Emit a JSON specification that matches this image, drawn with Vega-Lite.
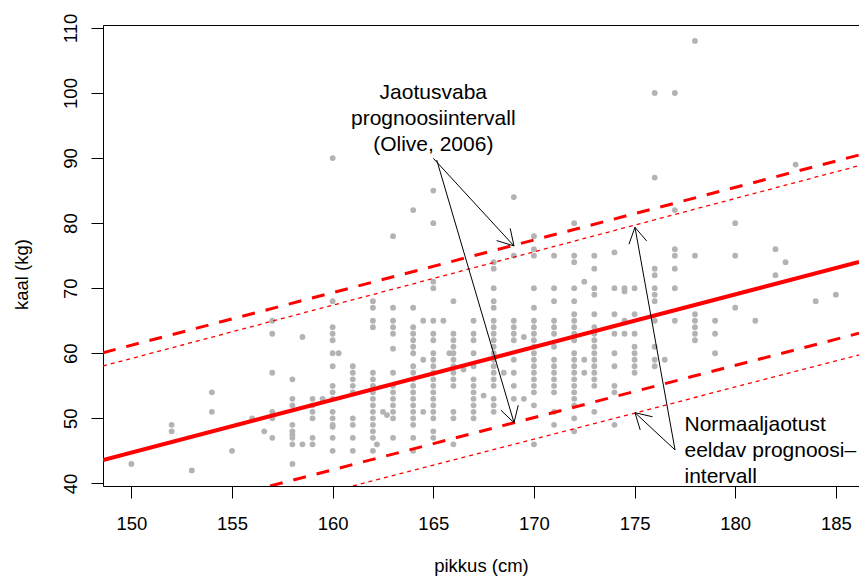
{
  "$schema": "https://vega.github.io/schema/vega-lite/v6.json",
  "width": 756,
  "height": 461,
  "autosize": {"type": "none"},
  "padding": {"left": 103, "top": 25, "right": 0, "bottom": 93},
  "background": "white",
  "config": {
    "view": {"stroke": null},
    "font": "Liberation Sans",
    "axis": {"grid": false, "domainColor": "black", "tickColor": "black", "labelColor": "black", "titleColor": "black", "titleFontWeight": "normal", "domainWidth": 1, "tickWidth": 1}
  },
  "datasets": {
    "punktid": [
      {"pikkus":150,"kaal":43},
      {"pikkus":152,"kaal":49},{"pikkus":152,"kaal":48},
      {"pikkus":153,"kaal":42},
      {"pikkus":154,"kaal":54},{"pikkus":154,"kaal":51},
      {"pikkus":155,"kaal":45},
      {"pikkus":156,"kaal":50},
      {"pikkus":156.6,"kaal":48},
      {"pikkus":157,"kaal":65},{"pikkus":157,"kaal":63},{"pikkus":157,"kaal":57},{"pikkus":157,"kaal":51},{"pikkus":157,"kaal":50},{"pikkus":157,"kaal":47},
      {"pikkus":158,"kaal":56},{"pikkus":158,"kaal":53},{"pikkus":158,"kaal":52},{"pikkus":158,"kaal":49},{"pikkus":158,"kaal":48},{"pikkus":158,"kaal":47.5},{"pikkus":158,"kaal":47},{"pikkus":158,"kaal":46},{"pikkus":158,"kaal":43},
      {"pikkus":158.5,"kaal":62.5},{"pikkus":158.5,"kaal":46},
      {"pikkus":159,"kaal":53},{"pikkus":159,"kaal":52},{"pikkus":159,"kaal":51},{"pikkus":159,"kaal":50},{"pikkus":159,"kaal":47},{"pikkus":159,"kaal":46},
      {"pikkus":159.5,"kaal":53},
      {"pikkus":160,"kaal":90},{"pikkus":160,"kaal":68},{"pikkus":160,"kaal":64},{"pikkus":160,"kaal":63},{"pikkus":160,"kaal":62},{"pikkus":160,"kaal":60},{"pikkus":160,"kaal":58},{"pikkus":160,"kaal":55},{"pikkus":160,"kaal":54},{"pikkus":160,"kaal":53},{"pikkus":160,"kaal":51},{"pikkus":160,"kaal":50},{"pikkus":160,"kaal":49},{"pikkus":160,"kaal":48.7},{"pikkus":160,"kaal":47},{"pikkus":160,"kaal":45},
      {"pikkus":160.3,"kaal":60},
      {"pikkus":161,"kaal":58},{"pikkus":161,"kaal":57},{"pikkus":161,"kaal":56},{"pikkus":161,"kaal":55},{"pikkus":161,"kaal":54},{"pikkus":161,"kaal":50},{"pikkus":161,"kaal":49},{"pikkus":161,"kaal":47},{"pikkus":161,"kaal":45},
      {"pikkus":162,"kaal":68},{"pikkus":162,"kaal":67},{"pikkus":162,"kaal":65},{"pikkus":162,"kaal":64},{"pikkus":162,"kaal":57},{"pikkus":162,"kaal":56},{"pikkus":162,"kaal":55},{"pikkus":162,"kaal":54},{"pikkus":162,"kaal":53},{"pikkus":162,"kaal":52},{"pikkus":162,"kaal":51},{"pikkus":162,"kaal":50},{"pikkus":162,"kaal":49},{"pikkus":162,"kaal":48},{"pikkus":162,"kaal":47},{"pikkus":162,"kaal":45},
      {"pikkus":162.2,"kaal":46},{"pikkus":162.5,"kaal":51},{"pikkus":162.7,"kaal":50.5},
      {"pikkus":163,"kaal":78},{"pikkus":163,"kaal":67},{"pikkus":163,"kaal":65},{"pikkus":163,"kaal":64},{"pikkus":163,"kaal":63},{"pikkus":163,"kaal":60.7},{"pikkus":163,"kaal":57},{"pikkus":163,"kaal":55},{"pikkus":163,"kaal":54},{"pikkus":163,"kaal":53},{"pikkus":163,"kaal":52},{"pikkus":163,"kaal":51},{"pikkus":163,"kaal":50},{"pikkus":163,"kaal":47},
      {"pikkus":164,"kaal":82},{"pikkus":164,"kaal":67},{"pikkus":164,"kaal":64},{"pikkus":164,"kaal":63},{"pikkus":164,"kaal":62},{"pikkus":164,"kaal":61},{"pikkus":164,"kaal":60},{"pikkus":164,"kaal":58},{"pikkus":164,"kaal":57},{"pikkus":164,"kaal":56},{"pikkus":164,"kaal":55},{"pikkus":164,"kaal":54},{"pikkus":164,"kaal":53},{"pikkus":164,"kaal":52},{"pikkus":164,"kaal":51},{"pikkus":164,"kaal":50},{"pikkus":164,"kaal":49},{"pikkus":164,"kaal":47},{"pikkus":164,"kaal":45},
      {"pikkus":164.5,"kaal":65},{"pikkus":164.5,"kaal":59},{"pikkus":164.5,"kaal":51},
      {"pikkus":165,"kaal":85},{"pikkus":165,"kaal":80},{"pikkus":165,"kaal":71},{"pikkus":165,"kaal":70},{"pikkus":165,"kaal":65},{"pikkus":165,"kaal":63},{"pikkus":165,"kaal":62},{"pikkus":165,"kaal":60},{"pikkus":165,"kaal":59},{"pikkus":165,"kaal":58},{"pikkus":165,"kaal":57},{"pikkus":165,"kaal":56},{"pikkus":165,"kaal":55},{"pikkus":165,"kaal":54},{"pikkus":165,"kaal":53},{"pikkus":165,"kaal":52},{"pikkus":165,"kaal":51},{"pikkus":165,"kaal":50},{"pikkus":165,"kaal":48},{"pikkus":165,"kaal":47},
      {"pikkus":165.5,"kaal":65},{"pikkus":165.8,"kaal":60},
      {"pikkus":166,"kaal":68},{"pikkus":166,"kaal":63},{"pikkus":166,"kaal":62},{"pikkus":166,"kaal":61},{"pikkus":166,"kaal":60},{"pikkus":166,"kaal":59},{"pikkus":166,"kaal":58},{"pikkus":166,"kaal":57},{"pikkus":166,"kaal":56},{"pikkus":166,"kaal":55},{"pikkus":166,"kaal":51},{"pikkus":166,"kaal":50},{"pikkus":166,"kaal":46},
      {"pikkus":166.5,"kaal":57.5},
      {"pikkus":167,"kaal":65},{"pikkus":167,"kaal":63},{"pikkus":167,"kaal":62},{"pikkus":167,"kaal":60},{"pikkus":167,"kaal":58},{"pikkus":167,"kaal":56},{"pikkus":167,"kaal":55},{"pikkus":167,"kaal":54},{"pikkus":167,"kaal":53},{"pikkus":167,"kaal":52},{"pikkus":167,"kaal":51},{"pikkus":167,"kaal":50},
      {"pikkus":167.5,"kaal":53.5},
      {"pikkus":168,"kaal":74},{"pikkus":168,"kaal":73},{"pikkus":168,"kaal":70},{"pikkus":168,"kaal":68},{"pikkus":168,"kaal":67},{"pikkus":168,"kaal":65},{"pikkus":168,"kaal":64},{"pikkus":168,"kaal":63},{"pikkus":168,"kaal":62},{"pikkus":168,"kaal":61},{"pikkus":168,"kaal":60},{"pikkus":168,"kaal":59},{"pikkus":168,"kaal":58},{"pikkus":168,"kaal":57},{"pikkus":168,"kaal":56},{"pikkus":168,"kaal":55},{"pikkus":168,"kaal":53},{"pikkus":168,"kaal":52},{"pikkus":168,"kaal":51},
      {"pikkus":168.5,"kaal":57},
      {"pikkus":169,"kaal":84},{"pikkus":169,"kaal":75},{"pikkus":169,"kaal":65},{"pikkus":169,"kaal":64},{"pikkus":169,"kaal":63},{"pikkus":169,"kaal":62},{"pikkus":169,"kaal":59},{"pikkus":169,"kaal":57},{"pikkus":169,"kaal":55},{"pikkus":169,"kaal":53},
      {"pikkus":169.5,"kaal":62.5},{"pikkus":169.5,"kaal":53},
      {"pikkus":170,"kaal":78},{"pikkus":170,"kaal":76},{"pikkus":170,"kaal":75},{"pikkus":170,"kaal":70},{"pikkus":170,"kaal":67},{"pikkus":170,"kaal":65},{"pikkus":170,"kaal":64},{"pikkus":170,"kaal":63},{"pikkus":170,"kaal":62},{"pikkus":170,"kaal":61},{"pikkus":170,"kaal":60},{"pikkus":170,"kaal":59},{"pikkus":170,"kaal":58},{"pikkus":170,"kaal":57},{"pikkus":170,"kaal":56},{"pikkus":170,"kaal":55},{"pikkus":170,"kaal":54},{"pikkus":170,"kaal":52},{"pikkus":170,"kaal":46},
      {"pikkus":171,"kaal":75},{"pikkus":171,"kaal":70},{"pikkus":171,"kaal":68},{"pikkus":171,"kaal":65},{"pikkus":171,"kaal":64},{"pikkus":171,"kaal":63},{"pikkus":171,"kaal":61},{"pikkus":171,"kaal":59},{"pikkus":171,"kaal":58},{"pikkus":171,"kaal":57},{"pikkus":171,"kaal":56},{"pikkus":171,"kaal":55},{"pikkus":171,"kaal":54},{"pikkus":171,"kaal":51},{"pikkus":171,"kaal":49},
      {"pikkus":172,"kaal":80},{"pikkus":172,"kaal":75},{"pikkus":172,"kaal":74},{"pikkus":172,"kaal":70},{"pikkus":172,"kaal":68},{"pikkus":172,"kaal":66},{"pikkus":172,"kaal":65},{"pikkus":172,"kaal":64},{"pikkus":172,"kaal":63},{"pikkus":172,"kaal":62},{"pikkus":172,"kaal":60},{"pikkus":172,"kaal":59},{"pikkus":172,"kaal":58},{"pikkus":172,"kaal":57},{"pikkus":172,"kaal":56},{"pikkus":172,"kaal":55},{"pikkus":172,"kaal":54},{"pikkus":172,"kaal":53},{"pikkus":172,"kaal":52},{"pikkus":172,"kaal":50},{"pikkus":172,"kaal":48},
      {"pikkus":172.5,"kaal":71},{"pikkus":172.5,"kaal":59},{"pikkus":172.5,"kaal":57},
      {"pikkus":173,"kaal":75},{"pikkus":173,"kaal":73},{"pikkus":173,"kaal":70},{"pikkus":173,"kaal":69},{"pikkus":173,"kaal":66},{"pikkus":173,"kaal":64},{"pikkus":173,"kaal":63},{"pikkus":173,"kaal":62},{"pikkus":173,"kaal":61},{"pikkus":173,"kaal":60},{"pikkus":173,"kaal":59},{"pikkus":173,"kaal":58},{"pikkus":173,"kaal":57},{"pikkus":173,"kaal":56},{"pikkus":173,"kaal":55},{"pikkus":173,"kaal":51},
      {"pikkus":174,"kaal":75.5},{"pikkus":174,"kaal":70},{"pikkus":174,"kaal":66},{"pikkus":174,"kaal":63},{"pikkus":174,"kaal":60},{"pikkus":174,"kaal":58},{"pikkus":174,"kaal":55},{"pikkus":174,"kaal":54},{"pikkus":174,"kaal":49},
      {"pikkus":174.5,"kaal":70},{"pikkus":174.5,"kaal":69.5},{"pikkus":174.5,"kaal":65},{"pikkus":174.5,"kaal":63},
      {"pikkus":175,"kaal":70},{"pikkus":175,"kaal":66},{"pikkus":175,"kaal":63},{"pikkus":175,"kaal":61},{"pikkus":175,"kaal":60},{"pikkus":175,"kaal":59},{"pikkus":175,"kaal":58},{"pikkus":175,"kaal":57},
      {"pikkus":176,"kaal":100},{"pikkus":176,"kaal":87},{"pikkus":176,"kaal":73},{"pikkus":176,"kaal":72},{"pikkus":176,"kaal":70},{"pikkus":176,"kaal":69},{"pikkus":176,"kaal":68},{"pikkus":176,"kaal":65},{"pikkus":176,"kaal":61},{"pikkus":176,"kaal":59},{"pikkus":176,"kaal":58},
      {"pikkus":176.5,"kaal":59},
      {"pikkus":177,"kaal":100},{"pikkus":177,"kaal":82},{"pikkus":177,"kaal":76},{"pikkus":177,"kaal":75},{"pikkus":177,"kaal":73},{"pikkus":177,"kaal":70},{"pikkus":177,"kaal":65},
      {"pikkus":178,"kaal":108},{"pikkus":178,"kaal":75},{"pikkus":178,"kaal":66},{"pikkus":178,"kaal":65},{"pikkus":178,"kaal":64},{"pikkus":178,"kaal":63},{"pikkus":178,"kaal":62},
      {"pikkus":179,"kaal":65},{"pikkus":179,"kaal":63},{"pikkus":179,"kaal":60},
      {"pikkus":180,"kaal":80},{"pikkus":180,"kaal":75},{"pikkus":180,"kaal":67},
      {"pikkus":181,"kaal":65},
      {"pikkus":182,"kaal":76},{"pikkus":182,"kaal":72},
      {"pikkus":182.5,"kaal":74},
      {"pikkus":183,"kaal":89},
      {"pikkus":184,"kaal":68},
      {"pikkus":185,"kaal":69}
    ],
    "regressioon": [
      {"pikkus":148.59,"kaal":43.6},{"pikkus":186.15,"kaal":74.03}
    ],
    "olive": [
      {"piir":"ülemine","pikkus":148.59,"kaal":60.09},{"piir":"ülemine","pikkus":186.15,"kaal":90.47},
      {"piir":"alumine","pikkus":156.89,"kaal":39.6},{"piir":"alumine","pikkus":186.15,"kaal":63.07}
    ],
    "normaal": [
      {"piir":"ülemine","pikkus":148.59,"kaal":58.04},{"piir":"ülemine","pikkus":186.15,"kaal":88.83},
      {"piir":"alumine","pikkus":161.01,"kaal":39.6},{"piir":"alumine","pikkus":186.15,"kaal":59.74}
    ],
    "nooled": [
      {"pikkus":165.0,"kaal":89.96,"pikkus2":169.01,"kaal2":76.49},
      {"pikkus":169.01,"kaal":76.49,"pikkus2":168.82,"kaal2":79.19},
      {"pikkus":169.01,"kaal":76.49,"pikkus2":168.15,"kaal2":77.32},
      {"pikkus":165.17,"kaal":89.7,"pikkus2":169.01,"kaal2":49.33},
      {"pikkus":169.01,"kaal":49.33,"pikkus2":169.22,"kaal2":52.02},
      {"pikkus":169.01,"kaal":49.33,"pikkus2":168.36,"kaal2":51.24},
      {"pikkus":177.01,"kaal":45.14,"pikkus2":175.02,"kaal2":50.87},
      {"pikkus":175.02,"kaal":50.87,"pikkus2":175.28,"kaal2":48.22},
      {"pikkus":175.02,"kaal":50.87,"pikkus2":175.89,"kaal2":50.24},
      {"pikkus":177.01,"kaal":45.14,"pikkus2":175.02,"kaal2":79.36},
      {"pikkus":175.02,"kaal":79.36,"pikkus2":174.72,"kaal2":76.76},
      {"pikkus":175.02,"kaal":79.36,"pikkus2":175.6,"kaal2":77.26}
    ],
    "tekst1": [
      {"pikkus":165.0,"kaal":100.0,"silt":"Jaotusvaba\nprognoosiintervall\n(Olive, 2006)"}
    ],
    "tekst2": [
      {"pikkus":177.48,"kaal":48.98,"silt":"Normaaljaotust\neeldav prognoosi–\nintervall"}
    ]
  },
  "layer": [
    {
      "data": {"name": "punktid"},
      "mark": {"type": "circle", "size": 34, "color": "#b3b3b3", "opacity": 1, "strokeWidth": 0},
      "encoding": {
        "x": {"field": "pikkus", "type": "quantitative",
              "scale": {"domain": [148.59, 186.15], "nice": false, "zero": false},
              "axis": {"orient": "bottom", "values": [150,155,160,165,170,175,180,185], "title": "pikkus (cm)", "tickSize": 12, "labelFontSize": 18.5, "labelPadding": 16, "titleFontSize": 18.5, "titleBaseline": "alphabetic", "titleY": 85, "labelFlush": false, "labelOverlap": false}},
        "y": {"field": "kaal", "type": "quantitative",
              "scale": {"domain": [39.6, 110.45], "nice": false, "zero": false},
              "axis": {"values": [40,50,60,70,80,90,100,110], "title": "kaal (kg)", "tickSize": 12, "labelFontSize": 18.5, "labelAngle": -90, "labelAlign": "center", "labelBaseline": "alphabetic", "labelPadding": 15, "labelFlush": false, "labelOverlap": false, "titleFontSize": 18.5, "titleAngle": -90, "titleAlign": "center", "titleBaseline": "alphabetic", "titleX": -76, "titleY": 249}}
      }
    },
    {
      "data": {"name": "regressioon"},
      "mark": {"type": "line", "color": "#ff0000", "strokeWidth": 4, "clip": true},
      "encoding": {
        "x": {"field": "pikkus", "type": "quantitative", "axis": {"orient": "top", "labels": false, "ticks": false, "title": null, "domain": true}},
        "y": {"field": "kaal", "type": "quantitative"}
      }
    },
    {
      "data": {"name": "olive"},
      "mark": {"type": "line", "color": "#ff0000", "strokeWidth": 3, "strokeDash": [13, 11], "clip": true},
      "encoding": {
        "x": {"field": "pikkus", "type": "quantitative", "axis": null},
        "y": {"field": "kaal", "type": "quantitative"},
        "detail": {"field": "piir", "type": "nominal"}
      }
    },
    {
      "data": {"name": "normaal"},
      "mark": {"type": "line", "color": "#ff0000", "strokeWidth": 1.3, "strokeDash": [4, 4], "clip": true},
      "encoding": {
        "x": {"field": "pikkus", "type": "quantitative", "axis": null},
        "y": {"field": "kaal", "type": "quantitative"},
        "detail": {"field": "piir", "type": "nominal"}
      }
    },
    {
      "data": {"name": "nooled"},
      "mark": {"type": "rule", "color": "black", "strokeWidth": 1},
      "encoding": {
        "x": {"field": "pikkus", "type": "quantitative", "axis": null},
        "y": {"field": "kaal", "type": "quantitative"},
        "x2": {"field": "pikkus2"},
        "y2": {"field": "kaal2"}
      }
    },
    {
      "data": {"name": "tekst1"},
      "mark": {"type": "text", "align": "center", "baseline": "middle", "fontSize": 21, "lineHeight": 26, "lineBreak": "\n", "color": "black"},
      "encoding": {
        "x": {"field": "pikkus", "type": "quantitative", "axis": null},
        "y": {"field": "kaal", "type": "quantitative"},
        "text": {"field": "silt"}
      }
    },
    {
      "data": {"name": "tekst2"},
      "mark": {"type": "text", "align": "left", "baseline": "middle", "fontSize": 21, "lineHeight": 26, "lineBreak": "\n", "color": "black"},
      "encoding": {
        "x": {"field": "pikkus", "type": "quantitative", "axis": null},
        "y": {"field": "kaal", "type": "quantitative"},
        "text": {"field": "silt"}
      }
    }
  ],
  "resolve": {"axis": {"x": "independent"}}
}
